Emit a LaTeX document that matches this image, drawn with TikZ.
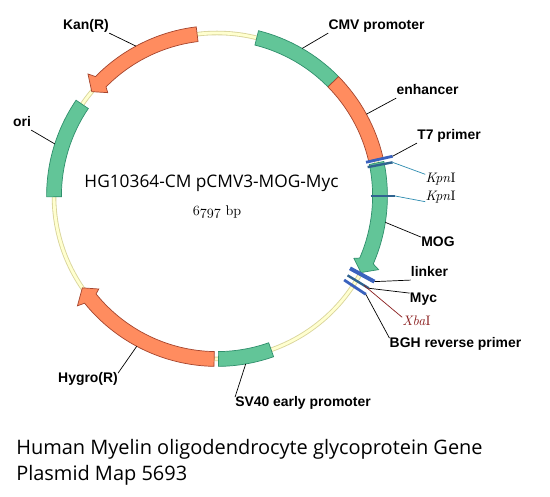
\documentclass[tikz,border=0pt]{standalone}
\usepackage{fontspec}
\setsansfont{Open Sans}
\newfontfamily\lblfont{Liberation Sans}
\usetikzlibrary{arrows.meta, positioning, calc}
\definecolor{verde}{HTML}{62C598}
\definecolor{verdeosc}{HTML}{2F8F6C}
\definecolor{naranja}{HTML}{FF8C5F}
\definecolor{naranjaosc}{HTML}{A5452E}
\definecolor{anillo}{HTML}{FFFFD0}
\definecolor{anillosc}{HTML}{D9D49A}
\definecolor{azul}{HTML}{3A62BE}
\definecolor{azuloscuro}{HTML}{2F6390}
\definecolor{cian}{HTML}{2E8CB0}
\definecolor{rojizo}{HTML}{8B1F1F}
\tikzset{
  gene/.style={draw=verdeosc, fill=verde, line width=0.5pt},
  marker/.style={draw=naranjaosc, fill=naranja, line width=0.5pt},
  lbl/.style={inner sep=0pt, yshift=-0.04cm, text height=0.24cm, text depth=0.07cm, font=\lblfont\bfseries\fontsize{9.9}{12}\selectfont, text=black},
  enz/.style={inner sep=0pt, text height=0.2cm, text depth=0.02cm, font=\rmfamily\fontsize{9.8}{12}\selectfont, text=black},
  leader/.style={draw=black, line width=0.5pt},
  leaderk/.style={draw=cian, line width=0.5pt},
  leaderx/.style={draw=rojizo, line width=0.5pt},
  tick/.style={azul, line width=2pt},
  tickn/.style={azuloscuro, line width=1.7pt},
}
\newcommand{\bandseg}[3]{\path[#1] (#2:4.26) arc[start angle=#2, end angle=#3, radius=4.26] -- (#3:3.89) arc[start angle=#3, end angle=#2, radius=3.89] -- cycle;}
\newcommand{\bandarrow}[5]{\path[#1] (#2:4.26) arc[start angle=#2, end angle=#3, radius=4.26] -- (#4:4.44) -- (#5:4.075) -- (#4:3.76) -- (#3:3.89) arc[start angle=#3, end angle=#2, radius=3.89] -- cycle;}
\begin{document}
\begin{tikzpicture}
  \useasboundingbox (-5.425,4.9) rectangle (8.325,-7.525);
  \fill[white] (-5.425,4.9) rectangle (8.325,-7.525);
  \draw[anillosc, line width=3.2pt] (0,0) circle (4.075);
  \draw[anillo, line width=2pt] (0,0) circle (4.075);

  \bandseg{gene}{75.9}{44.5}
  \bandseg{marker}{44.5}{13}
  \bandarrow{gene}{11.7}{-23.5}{-24.5}{-28}
  \bandarrow{marker}{97}{135.5}{136.6}{140.2}
  \bandseg{gene}{145.8}{180.3}
  \bandarrow{marker}{269}{219}{218.2}{214.3}
  \bandseg{gene}{270.5}{289.4}

  \draw[tick] (12.75:3.82) -- (12.75:4.5) coordinate (t7end);
  \draw[tickn] (10.85:3.835) -- (10.85:4.47) coordinate (kpnaend);
  \draw[tickn] (0:3.84) -- (0:4.45) coordinate (kpnbend);
  \draw[tick, line width=2.8pt] (-28.55:3.785) -- (-28.55:4.48) coordinate (linkerend);
  \draw[tickn] (-31.3:3.82) -- (-31.3:4.44) coordinate (mycend);
  \draw[tick] (-33.45:3.81) -- (-33.45:4.46) coordinate (bghend);

  \coordinate (cmvend) at (60:4.26);
  \coordinate (enhend) at (28.7:4.26);
  \coordinate (mogend) at (-8.9:4.26);
  \coordinate (xbaend) at (-31.3:4.3);
  \coordinate (kanend) at (118.4:4.26);
  \coordinate (oriend) at (162.2:4.26);
  \coordinate (hygend) at (241.9:4.26);
  \coordinate (svend) at (279.7:4.26);

  \node[lbl] (kan) at (-3.275,4.275) {Kan(R)};
  \node[lbl] (cmv) at (3.9875,4.275) {CMV promoter};
  \node[lbl] (enh) at (5.2625,2.65) {enhancer};
  \node[lbl] (t7) at (5.8,1.525) {T7 primer};
  \node[enz] (kpna) at (5.5875,0.425) {\textit{Kpn}I};
  \node[enz] (kpnb) at (5.5875,-0.025) {\textit{Kpn}I};
  \node[lbl] (mog) at (5.525,-1.15) {MOG};
  \node[lbl] (linker) at (5.3125,-1.9) {linker};
  \node[lbl] (myc) at (5.1625,-2.55) {Myc};
  \node[enz, text=rojizo] (xba) at (4.9875,-3.15) {\textit{Xba}I};
  \node[lbl] (bgh) at (5.9625,-3.675) {BGH reverse primer};
  \node[lbl] (ori) at (-4.875,1.85) {ori};
  \node[lbl] (hyg) at (-3.225,-4.55) {Hygro(R)};
  \node[lbl] (sv) at (2.15,-5.15) {SV40 early promoter};

  \draw[leader] (cmv.south west) -- (cmvend);
  \draw[leader] (enh.south west) -- (enhend);
  \draw[leader] (t7.south west) -- (t7end);
  \draw[leaderk] (kpna.north west) -- (kpnaend);
  \draw[leaderk] (kpnb.south west) -- (kpnbend);
  \draw[leader] (mog.north west) -- (mogend);
  \draw[leader] (linker.south west) -- (linkerend);
  \draw[leader] (myc.north west) -- (mycend);
  \draw[leaderx] (xba.north west) -- (xbaend);
  \draw[leader] (bgh.north west) -- (bghend);
  \draw[leader] (kan.south east) -- (kanend);
  \draw[leader] (ori.south east) -- (oriend);
  \draw[leader] (hyg.north east) -- (hygend);
  \draw[leader] (sv.north west) -- (svend);

  \node[font=\sffamily\fontsize{12.3}{15}\selectfont] (title) at (-0.1375,0.325) {HG10364-CM pCMV3-MOG-Myc};
  \node[font=\rmfamily\fontsize{10}{12}\selectfont] (size) at (0,-0.4) {$\mathnormal{6797}$ bp};
  \node[anchor=west, align=left, inner sep=0pt, font=\sffamily\fontsize{14.2}{18.4}\selectfont] (caption) at (-5.025,-6.65) {Human Myelin oligodendrocyte glycoprotein Gene\\Plasmid Map 5693};
\end{tikzpicture}
\end{document}
